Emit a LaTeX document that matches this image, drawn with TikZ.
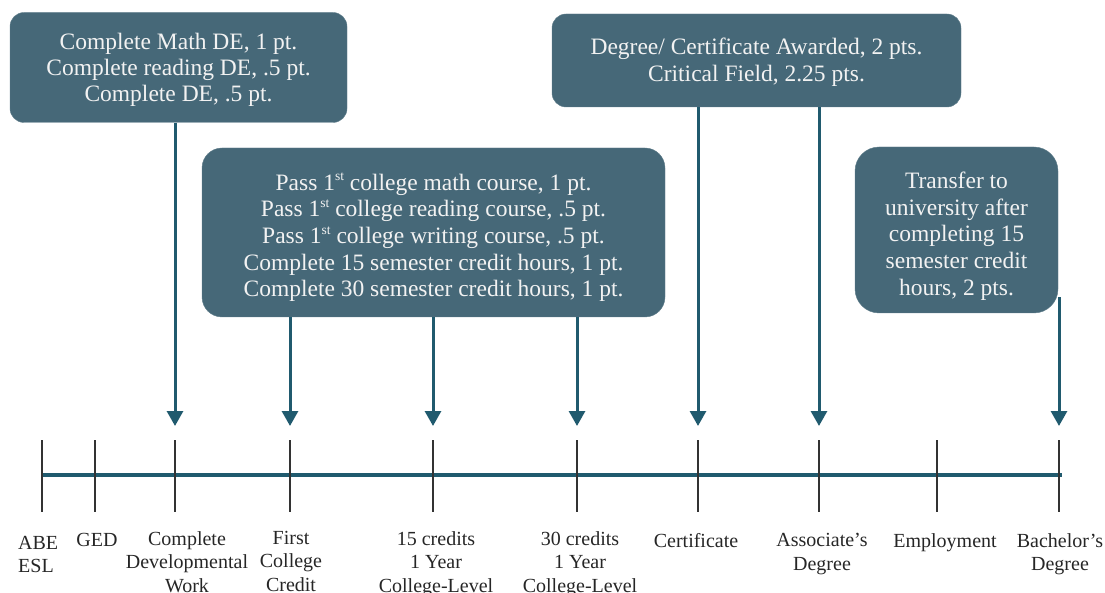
\documentclass[tikz,border=0pt]{standalone}
\usepackage{fontspec}
\setmainfont{Liberation Serif}
\usetikzlibrary{arrows.meta}
\definecolor{boxteal}{RGB}{70,104,120}
\definecolor{lineteal}{RGB}{32,90,110}
\definecolor{boxtext}{RGB}{242,242,242}
\newcommand{\ordsup}[1]{\raisebox{0.4em}{\fontsize{13.5}{13.5}\selectfont #1}}
\tikzset{
  goalbox/.style={fill=boxteal, draw=boxteal!85!white, inner sep=0pt},
  boxwords/.style={text=boxtext, align=center, inner sep=0pt, font=\fontsize{23.5}{26.7}\selectfont},
  pointer/.style={line width=3pt, color=lineteal, -{Triangle[width=16pt,length=15pt]}},
  timeline/.style={line width=3.5pt, color=lineteal},
  tickline/.style={line width=1.4pt, color=black!80},
  stoplabel/.style={anchor=north, align=center, inner sep=0pt, text=black!85,
    font=\fontsize{20}{23.5}\selectfont}
}

\begin{document}
\begin{tikzpicture}[x=1pt, y=-1pt]
            \useasboundingbox (0,0) rectangle (1105,593);
            % Point boxes
            \node[goalbox, minimum width=337pt, minimum height=110pt, rounded corners=14pt] (devbox) at (178.5,67.5) {};
            \node[boxwords, font=\fontsize{23.5}{26}\selectfont] (devtext) at ([yshift=-2pt]devbox.center)
              {Complete Math DE, 1 pt.\\Complete reading DE, .5 pt.\\Complete DE, .5 pt.};
            \node[goalbox, minimum width=463pt, minimum height=169pt, rounded corners=20pt] (creditbox) at (433.5,232.5) {};
            \node[boxwords] (credittext) at ([yshift=-5pt]creditbox.center)
              {Pass 1\ordsup{st} college math course, 1 pt.\\
               Pass 1\ordsup{st} college reading course, .5 pt.\\
               Pass 1\ordsup{st} college writing course, .5 pt.\\
               Complete 15 semester credit hours, 1 pt.\\
               Complete 30 semester credit hours, 1 pt.};
            \node[goalbox, minimum width=409pt, minimum height=93pt, rounded corners=14pt] (awardbox) at (756.5,60.5) {};
            \node[boxwords] (awardtext) at ([yshift=-2pt]awardbox.center)
              {Degree/ Certificate Awarded, 2 pts.\\Critical Field, 2.25 pts.};
            \node[goalbox, minimum width=203pt, minimum height=166pt, rounded corners=24pt] (transferbox) at (956.5,230) {};
            \node[boxwords] (transfertext) at ([yshift=-6pt]transferbox.center)
              {Transfer to\\university after\\completing 15\\semester credit\\hours, 2 pts.};
            % Timeline and stops
            \draw[timeline] (42,475) -- (1062,475);
            \foreach \x/\s in {42/abe,95/ged,175/dev,290/first,433/fifteen,577/thirty,698/cert,819/assoc,937/employ,1059/bach} {
                \coordinate (t\s) at (\x,440);
                \draw[tickline] (t\s) -- (\x,512);
            }
            % Stop labels
            \node[stoplabel, anchor=north west, align=left] (abelabel) at (18,536) {ABE\\ESL};
            \node[stoplabel] (gedlabel) at (97,533) {GED};
            \node[stoplabel] (devlabel) at (187,531) {Complete\\Developmental\\Work};
            \node[stoplabel] (firstlabel) at (291,531) {First\\College\\Credit};
            \node[stoplabel] (fifteenlabel) at (436,531) {15 credits\\1 Year\\College-Level};
            \node[stoplabel] (thirtylabel) at (580,531) {30 credits\\1 Year\\College-Level};
            \node[stoplabel] (certlabel) at (696,533) {Certificate};
            \node[stoplabel] (assoclabel) at (822,533) {Associate's\\Degree};
            \node[stoplabel] (employlabel) at (945,533) {Employment};
            \node[stoplabel] (bachlabel) at (1060,533) {Bachelor's\\Degree};
            % Arrows
            \draw[pointer] (devbox.south -| tdev) -- ([yshift=14pt]tdev);
            \foreach \s in {first,fifteen,thirty} {
                \draw[pointer] (creditbox.south -| t\s) -- ([yshift=14pt]t\s);
            }
            \foreach \s in {cert,assoc} {
                \draw[pointer] (awardbox.south -| t\s) -- ([yshift=14pt]t\s);
            }
            \coordinate (transferout) at ([yshift=16pt]transferbox.south east);
            \draw[pointer] (transferout -| tbach) -- ([yshift=14pt]tbach);
        \end{tikzpicture}
\end{document}
